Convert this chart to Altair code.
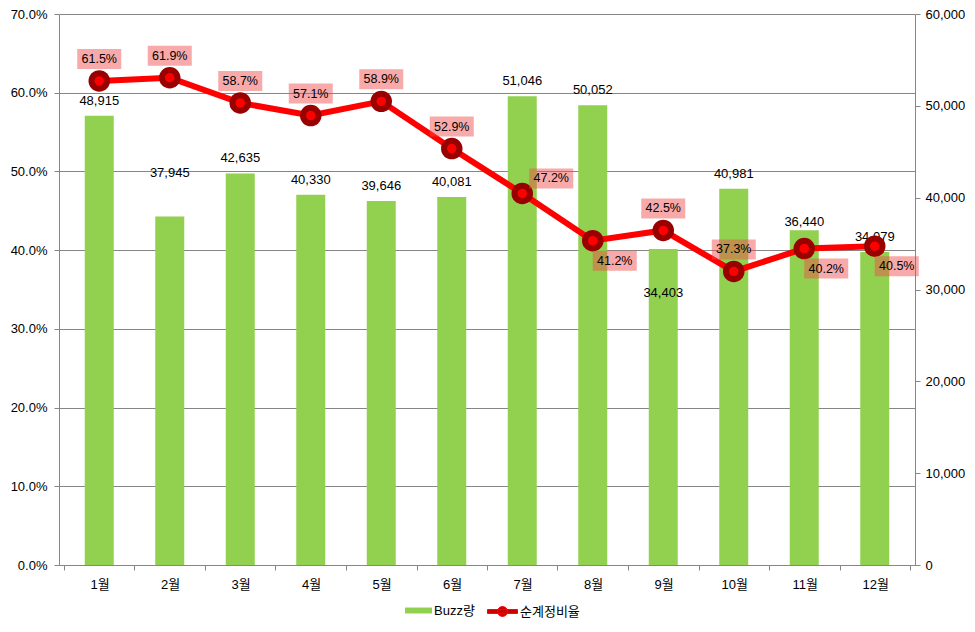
import json
import altair as alt
import pandas as pd

# ---------------- data ----------------
months = ["1월", "2월", "3월", "4월", "5월", "6월", "7월", "8월", "9월", "10월", "11월", "12월"]
buzz = [48915, 37945, 42635, 40330, 39646, 40081, 51046, 50052, 34403, 40981, 36440, 34079]
ratio = [61.5, 61.9, 58.7, 57.1, 58.9, 52.9, 47.2, 41.2, 42.5, 37.3, 40.2, 40.5]
series_names = ["Buzz량", "순계정비율"]

# label placement (style) per point
ratio_place = ["above", "above", "above", "above", "above", "above",
               "right", "below_right", "above", "above", "below_right", "below_right"]
buzz_place = ["above", "high", "above", "above", "above", "above",
              "above", "above", "inside", "above", "low", "above"]

# ---------------- styles ----------------
W, H = 856, 551
FONT = "Liberation Sans, Noto Sans CJK KR, sans-serif"
GRAY = "#868686"
GREEN = "#92D050"
RED = "#FF0000"
DARK_RED = "#990000"

RATIO_OFFSETS = {"above": (0, -22), "right": (29, -15), "below_right": (22, 20)}
BUZZ_OFFSETS = {"above": (0, -15), "high": (0, -44), "inside": (0, 44), "low": (0, -8)}

BOX_PATH = "M-1,-0.4545L1,-0.4545L1,0.4545L-1,0.4545Z"
BAR_LEGEND_PATH = "M-1,-0.22L1,-0.22L1,0.22L-1,0.22Z"
LINE_LEGEND_PATH = ("M-1,-0.13L1,-0.13L1,0.13L-1,0.13Z "
                    "M0.33,0A0.33,0.33,0,1,1,-0.33,0A0.33,0.33,0,1,1,0.33,0Z")

df = pd.DataFrame({
    "idx": list(range(1, len(months) + 1)),
    "month": months,
    "buzz": buzz,
    "ratio": ratio,
    "rplace": ratio_place,
    "bplace": buzz_place,
    "s1": series_names[0],
    "s2": series_names[1],
})

base = alt.Chart(df).transform_calculate(
    rlabel="format(datum.ratio, '.1f') + '%'"
)

label_expr = json.dumps(months, ensure_ascii=False) + "[floor(datum.value)] || ''"
x = alt.X(
    "idx:Q",
    scale=alt.Scale(domain=[0.5, len(months) + 0.5], nice=False, zero=False),
    axis=alt.Axis(
        values=[i + 0.5 for i in range(len(months) + 1)],
        labelExpr=label_expr,
        labelOffset=W / (2 * len(months)),
        labelFlush=False,
        labelOverlap=False,
        labelBound=False,
        grid=False,
        tickSize=5,
        labelPadding=8,
        title=None,
    ),
)

buzz_scale = alt.Scale(domain=[0, 60000], nice=False, zero=True)
ratio_scale = alt.Scale(domain=[0, 70], nice=False, zero=True)

right_axis = alt.Axis(
    orient="right",
    values=list(range(0, 60001, 10000)),
    labelExpr="format(datum.value, ',')",
    grid=False,
    tickSize=5,
    labelPadding=5,
    title=None,
)
left_axis = alt.Axis(
    orient="left",
    values=list(range(0, 71, 10)),
    labelExpr="format(datum.value, '.1f') + '%'",
    grid=True,
    tickSize=5,
    labelPadding=7,
    title=None,
)

legend_bar = alt.Legend(
    title=None, orient="none", legendX=346, legendY=583,
    symbolType=BAR_LEGEND_PATH, symbolSize=729, symbolStrokeWidth=0,
    labelOffset=2, padding=0, labelFontSize=13, labelFont=FONT,
)
legend_line = alt.Legend(
    title=None, orient="none", legendX=428, legendY=582,
    symbolType=LINE_LEGEND_PATH, symbolSize=900,
    symbolFillColor="#CC0000", symbolStrokeWidth=1,
    labelOffset=2, padding=0, labelFontSize=13, labelFont=FONT,
)

by = alt.Y("buzz:Q", scale=buzz_scale, axis=right_axis)
ry = alt.Y("ratio:Q", scale=ratio_scale, axis=left_axis)

# ---------------- bars ----------------
bars = base.mark_bar(size=29).encode(
    x=x,
    y=by,
    fill=alt.Fill("s1:N", scale=alt.Scale(domain=[series_names[0]], range=[GREEN]),
                  legend=legend_bar),
)

bar_texts = [
    base.transform_filter(f"datum.bplace == '{p}'").mark_text(
        dx=dx, dy=dy, fontSize=13, font=FONT, color="black", baseline="middle"
    ).encode(
        x=x,
        y=by,
        text=alt.Text("buzz:Q", format=","),
    )
    for p, (dx, dy) in BUZZ_OFFSETS.items()
]

bar_group = alt.layer(bars, *bar_texts)

# ---------------- line ----------------
line = base.mark_line(strokeWidth=6).encode(
    x=x,
    y=ry,
    stroke=alt.Stroke("s2:N", scale=alt.Scale(domain=[series_names[1]], range=[RED]),
                      legend=legend_line),
)

outer = base.mark_point(filled=True, shape="circle", size=462, color=DARK_RED,
                        opacity=1).encode(x=x, y=ry)
inner = base.mark_point(filled=True, shape="circle", size=90, color=RED,
                        opacity=1).encode(x=x, y=ry)

boxes = [
    base.transform_filter(f"datum.rplace == '{p}'").mark_point(
        filled=True, shape=BOX_PATH, size=44 * 44, color="#F04A4A",
        opacity=0.47, xOffset=dx, yOffset=dy,
    ).encode(x=x, y=ry)
    for p, (dx, dy) in RATIO_OFFSETS.items()
]
ratio_texts = [
    base.transform_filter(f"datum.rplace == '{p}'").mark_text(
        dx=dx, dy=dy, fontSize=12.5, font=FONT, color="black", baseline="middle"
    ).encode(x=x, y=ry, text="rlabel:N")
    for p, (dx, dy) in RATIO_OFFSETS.items()
]

line_group = alt.layer(line, outer, inner, *boxes, *ratio_texts)

chart = alt.layer(bar_group, line_group).resolve_scale(
    y="independent"
).properties(
    width=W,
    height=H,
    autosize=alt.AutoSizeParams(type="none"),
    padding={"left": 51, "top": 6, "right": 50, "bottom": 58},
).configure_view(
    stroke=None
).configure_axis(
    labelFont=FONT, labelFontSize=13, labelColor="black",
    domainColor=GRAY, tickColor=GRAY, gridColor=GRAY,
).configure_legend(
    labelFont=FONT, labelFontSize=13, labelColor="black",
)

chart.save("out.html", embed_options={"renderer": "svg", "actions": False})
